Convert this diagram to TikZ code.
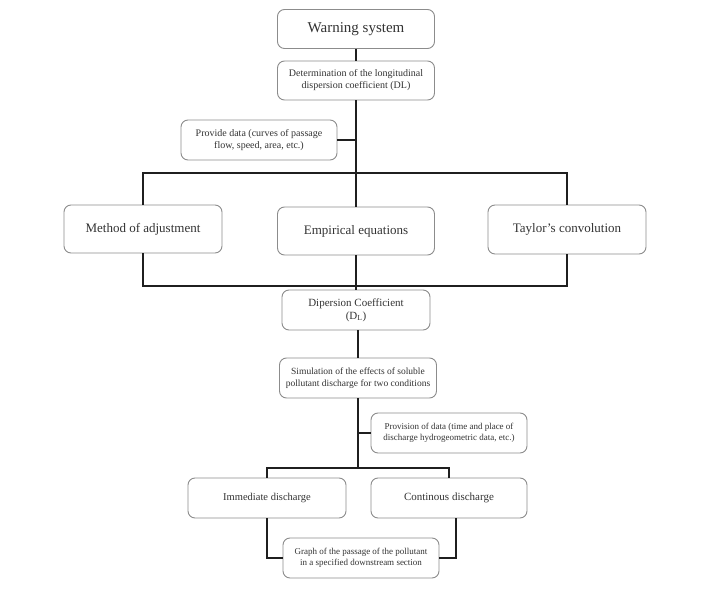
\documentclass[tikz,border=0pt]{standalone}
\usepackage{fontspec}
\setmainfont{Liberation Serif}
\begin{document}
\begin{tikzpicture}[x=1pt,y=-1pt,
  box/.style={draw=black!45,line width=0.9pt,rounded corners=7pt,fill=white,align=center,text=black!80,inner sep=0pt},
  conn/.style={draw=black!88,line width=2.2pt}]
\useasboundingbox (0,0) rectangle (713,593);
% nodes
\node[box,minimum width=157pt,minimum height=39pt,font=\fontsize{15}{17}\selectfont] (warn) at (356,29) {Warning system};
\node[box,minimum width=157pt,minimum height=39pt,font=\fontsize{10}{12}\selectfont] (det) at (356,80.5) {Determination of the longitudinal\\dispersion coefficient (DL)};
\node[box,minimum width=156pt,minimum height=40pt,font=\fontsize{10}{12}\selectfont] (prov) at (259,140) {Provide data (curves of passage\\flow, speed, area, etc.)};
\node[box,minimum width=158pt,minimum height=48pt,font=\fontsize{13}{15}\selectfont] (meth) at (143,229) {Method of adjustment};
\node[box,minimum width=157pt,minimum height=48pt,font=\fontsize{13}{15}\selectfont] (emp) at (356,231) {Empirical equations};
\node[box,minimum width=158pt,minimum height=49pt,font=\fontsize{13}{15}\selectfont] (tay) at (567,229.5) {Taylor’s convolution};
\node[box,minimum width=148pt,minimum height=40pt,font=\fontsize{11}{13}\selectfont] (disp) at (356,310) {Dipersion Coefficient\\(D\textsubscript{L})};
\node[box,minimum width=157pt,minimum height=40pt,font=\fontsize{9.5}{12}\selectfont] (sim) at (358,378) {Simulation of the effects of soluble\\pollutant discharge for two conditions};
\node[box,minimum width=156pt,minimum height=40pt,font=\fontsize{9}{11.5}\selectfont] (provis) at (449,433) {Provision of data (time and place of\\discharge hydrogeometric data, etc.)};
\node[box,minimum width=158pt,minimum height=40pt,font=\fontsize{10.5}{12}\selectfont] (imm) at (267,498) {Immediate discharge};
\node[box,minimum width=156pt,minimum height=40pt,font=\fontsize{11}{13}\selectfont] (cont) at (449,498) {Continous discharge};
\node[box,minimum width=156pt,minimum height=40pt,font=\fontsize{9}{11.5}\selectfont] (graph) at (361,558) {Graph of the passage of the pollutant\\in a specified downstream section};
% junction coordinates
\coordinate (tl) at (143,173);
\coordinate (tr) at (567,173);
\coordinate (bl) at (143,286);
\coordinate (br) at (567,286);
\coordinate (lj) at (358,468);
% connectors
\draw[conn] (warn.south) -- (det.north);
\draw[conn] (det.south) -- (emp.north);
\draw[conn] (prov.east) -- (prov.east -| det.south);
\draw[conn] (meth.north) -- (tl) -- (tr) -- (tay.north);
\draw[conn] (meth.south) -- (bl) -- (br) -- (tay.south);
\draw[conn] (emp.south) -- (disp.north);
\draw[conn] (disp.south -| sim.north) -- (sim.north);
\draw[conn] (sim.south) -- (lj);
\draw[conn] (provis.west) -- (provis.west -| sim.south);
\draw[conn] (imm.north) -- (imm.north |- lj) -- (cont.north |- lj) -- (cont.north);
\draw[conn] (imm.south) |- (graph.west);
\draw[conn] ([xshift=7pt]cont.south) |- (graph.east);
\end{tikzpicture}
\end{document}
